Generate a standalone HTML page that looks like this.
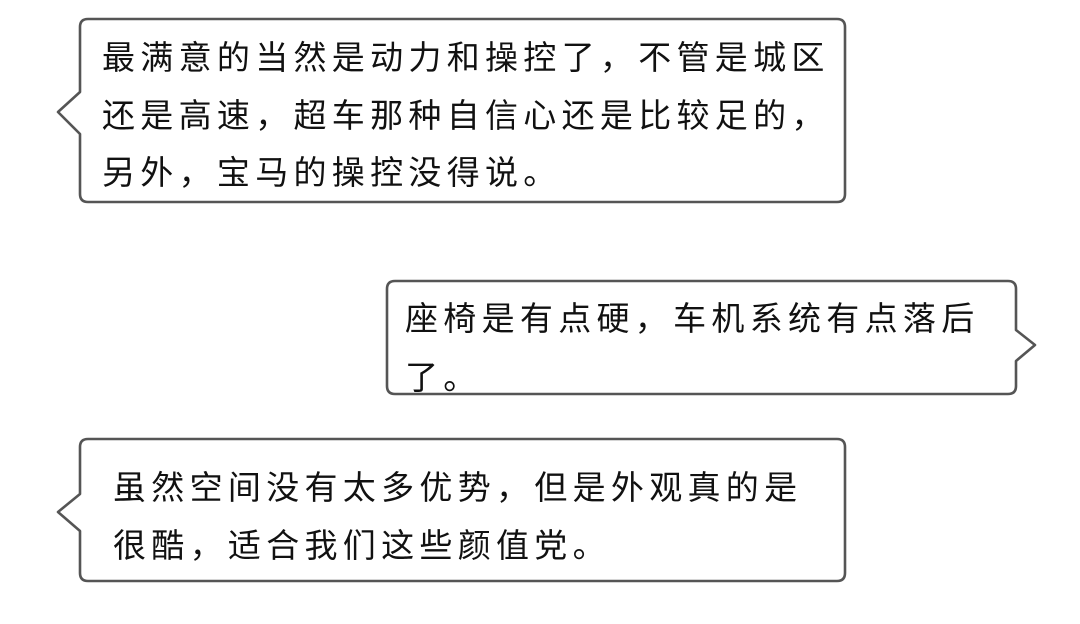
<!DOCTYPE html>
<html><head><meta charset="utf-8"><style>
html,body{margin:0;padding:0;background:#fff;width:1080px;height:624px;overflow:hidden}
text{font-family:"Liberation Sans","Noto Sans CJK SC",sans-serif;font-size:33px;font-weight:400;fill:#111;letter-spacing:5.3px}
</style></head><body>
<svg width="1080" height="624" xmlns="http://www.w3.org/2000/svg">
<g fill="#fff" stroke="#555" stroke-width="2.6" stroke-linejoin="round">
<path d="M88,19 H837 Q845,19 845,27 V194 Q845,202 837,202 H88 Q80,202 80,194 V134 L58,112 L80,92 V27 Q80,19 88,19 Z"/>
<path d="M395,281 H1008 Q1016,281 1016,289 V330 L1035,345 L1016,361 V386 Q1016,394 1008,394 H395 Q387,394 387,386 V289 Q387,281 395,281 Z"/>
<path d="M88,439 H837 Q845,439 845,447 V573 Q845,581 837,581 H88 Q80,581 80,573 V531 L58,512 L80,494 V447 Q80,439 88,439 Z"/>
</g>
<text x="102" y="69">最满意的当然是动力和操控了，不管是城区</text>
<text x="102" y="127">还是高速，超车那种自信心还是比较足的，</text>
<text x="102" y="184">另外，宝马的操控没得说。</text>
<text x="405" y="330">座椅是有点硬，车机系统有点落后</text>
<text x="405" y="389">了。</text>
<text x="113" y="499">虽然空间没有太多优势，但是外观真的是</text>
<text x="113" y="557">很酷，适合我们这些颜值党。</text>
</svg>
</body></html>
